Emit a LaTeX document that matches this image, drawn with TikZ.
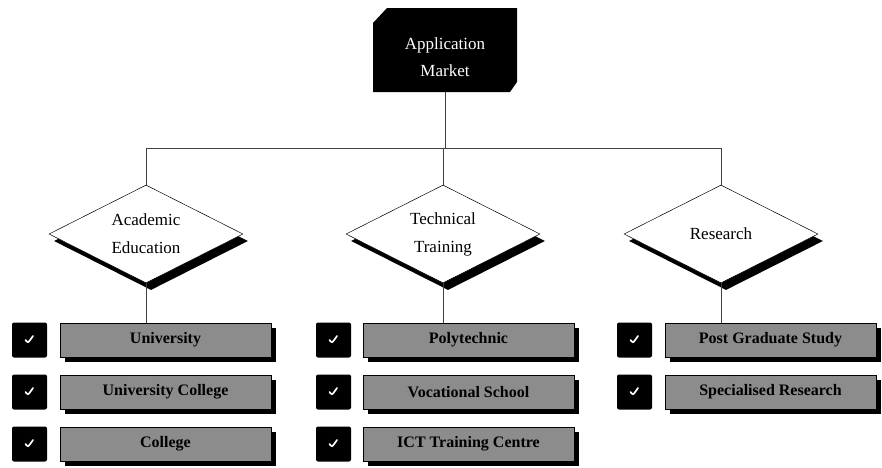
\documentclass[tikz,border=0pt]{standalone}
\usepackage{fontspec}
\setmainfont{Liberation Serif}
\usetikzlibrary{shapes.geometric,shadows}
\begin{document}
\begin{tikzpicture}[x=1pt,y=-1pt,
  conn/.style={draw=black!75,line width=0.9pt},
  topbox/.style={rectangle,minimum width=144pt,minimum height=84pt,inner sep=0pt},
  toptext/.style={text=white,align=center,font=\fontsize{17}{27}\selectfont},
  choice/.style={diamond,draw=black,line width=0.5pt,fill=white,aspect=2,inner sep=0pt,minimum width=194pt,minimum height=98pt,align=center,font=\fontsize{17}{28}\selectfont,general shadow={fill=black,shadow xshift=5pt,shadow yshift=-7pt}},
  item/.style={rectangle,draw=black,line width=0.8pt,fill=black!45,minimum width=211pt,minimum height=34pt,inner sep=0pt,font=\bfseries\fontsize{16}{18}\selectfont,general shadow={fill=black,shadow xshift=5pt,shadow yshift=-5pt}},
  tick/.style={rectangle,rounded corners=2pt,fill=black,minimum size=35pt,inner sep=0pt,
    path picture={\draw[white,line width=1.7pt,line cap=round,line join=miter]
      ([xshift=-4pt,yshift=0pt]path picture bounding box.center) --
      ([xshift=-1.5pt,yshift=-3pt]path picture bounding box.center) --
      ([xshift=3.5pt,yshift=4pt]path picture bounding box.center);}}
]
\useasboundingbox (0,0) rectangle (882,467);

% top
\fill[black] (373,92) -- (373,23) -- (387,8) -- (517,8) -- (517,82) -- (510,92) -- cycle;
\node[topbox] (app) at (445,50) {};
\node[toptext] (apptext) at (445,57) {Application\\Market};

% diamonds
\node[choice] (ac) at (146,234) {Academic\\Education};
\node[choice] (tt) at (443,234) {Technical\\Training};
\node[choice] (rs) at (721,234) {Research};

% connectors
\coordinate (hub) at (445,148);
\draw[conn] (app.south) -- (hub);
\draw[conn] (ac.north) -- (ac.north |- hub) -- (rs.north |- hub) -- (rs.north);
\draw[conn] (tt.north) -- (tt.north |- hub);

% left column
\node[tick] (c11) at (29.5,340) {};
\node[tick] (c12) at (29.5,392) {};
\node[tick] (c13) at (29.5,444) {};
\node[item] (u1) at (165.5,340) {University};
\node[item] (u2) at (165.5,392) {University College};
\node[item] (u3) at (165.5,444) {College};

% middle column
\node[tick] (c21) at (333.5,340) {};
\node[tick] (c22) at (333.5,392) {};
\node[tick] (c23) at (333.5,444) {};
\node[item] (t1) at (468.5,340) {Polytechnic};
\node[item] (t2) at (468.5,392) {Vocational School};
\node[item] (t3) at (468.5,444) {ICT Training Centre};

% right column
\node[tick] (c31) at (634.5,340) {};
\node[tick] (c32) at (634.5,392) {};
\node[item] (r1) at (770.5,340) {Post Graduate Study};
\node[item] (r2) at (770.5,392) {Specialised Research};

\draw[conn] (ac.south) -- (ac.south |- u1.north);
\draw[conn] (tt.south) -- (tt.south |- t1.north);
\draw[conn] (rs.south) -- (rs.south |- r1.north);
\end{tikzpicture}
\end{document}
